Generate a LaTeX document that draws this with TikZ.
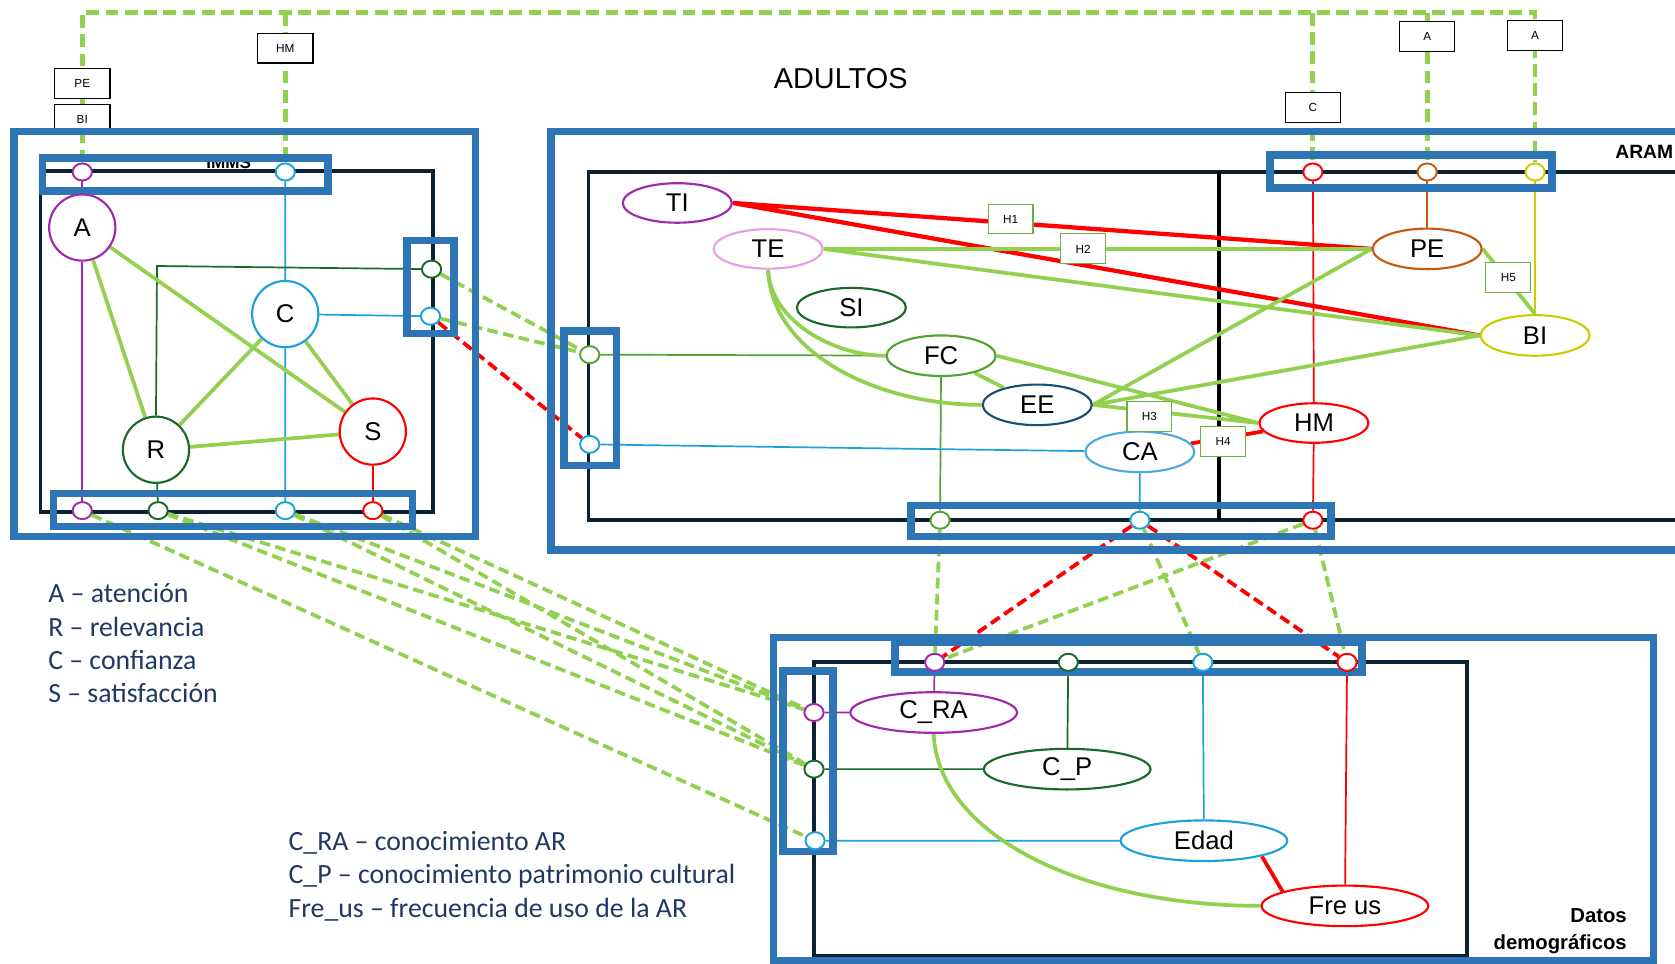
\documentclass[tikz,border=0pt]{standalone}
\usepackage{fontspec}
\setmainfont{Liberation Sans}
\newfontfamily\legfont{Carlito}
\usetikzlibrary{shapes.geometric}
\definecolor{bbox}{RGB}{46,117,182}
\definecolor{dkbox}{RGB}{12,34,50}
\definecolor{lgreen}{RGB}{146,208,80}
\definecolor{cpurple}{RGB}{160,40,170}
\definecolor{ccyan}{RGB}{30,160,220}
\definecolor{cdgreen}{RGB}{25,105,40}
\definecolor{cred}{RGB}{255,0,0}
\definecolor{cfc}{RGB}{80,165,50}
\definecolor{cee}{RGB}{25,80,120}
\definecolor{cca}{RGB}{75,170,225}
\definecolor{cte}{RGB}{230,160,225}
\definecolor{cpe}{RGB}{197,90,17}
\definecolor{cbi}{RGB}{204,204,0}
\definecolor{legtext}{RGB}{32,56,100}
\definecolor{hboxc}{RGB}{112,173,71}
\pgfdeclarelayer{bg}
\pgfdeclarelayer{conn}
\pgfdeclarelayer{blue}
\pgfsetlayers{bg,conn,blue,main}
\tikzset{
  bluebox/.style={draw=bbox, line width=7pt},
  blackbox/.style={draw=dkbox, line width=3.5pt},
  port/.style={ellipse, draw, fill=white, line width=1.8pt, minimum width=18pt, minimum height=16pt, inner sep=0pt},
  circ/.style={circle, draw, fill=white, line width=2pt, minimum size=62pt, inner sep=0pt, font=\fontsize{24}{28}\selectfont},
  ell/.style={ellipse, draw, fill=white, line width=2pt, minimum width=102pt, minimum height=37pt, inner sep=0pt, font=\fontsize{24}{28}\selectfont},
  wel/.style={ell, minimum width=156pt, minimum height=38pt},
  lbox/.style={draw=black, fill=white, line width=1pt, minimum width=52pt, minimum height=28pt, inner sep=0pt, font=\fontsize{11}{13}\selectfont},
  hbox/.style={draw=hboxc, fill=white, line width=1pt, minimum width=42pt, minimum height=28pt, inner sep=0pt, font=\fontsize{11}{13}\selectfont},
  thinln/.style={line width=1.6pt},
  thickln/.style={line width=3.5pt},
  dgreen/.style={draw=lgreen, line width=3.5pt, dash pattern=on 10pt off 5pt},
  dred/.style={draw=cred, line width=3.5pt, dash pattern=on 10pt off 5pt},
  legend/.style={anchor=west, text=legtext, inner sep=0pt, font=\legfont\fontsize{26}{30}\selectfont},
}
\begin{document}
\begin{tikzpicture}[x=1pt,y=-1pt]
\useasboundingbox (0,0) rectangle (1568,902);

% ---------- IMMS nodes ----------
\node[port,draw=cpurple] (iTa) at (77,161) {};
\node[port,draw=ccyan] (iTc) at (267,161) {};
\node[circ,draw=cpurple] (A) at (77,213) {A};
\node[circ,draw=ccyan] (C) at (267,294) {C};
\node[circ,draw=cdgreen] (R) at (146,421) {R};
\node[circ,draw=cred] (S) at (349,404) {S};
\node[port,draw=cdgreen] (iRr) at (404,252) {};
\node[port,draw=ccyan] (iRc) at (403,296) {};
\node[port,draw=cpurple] (iBa) at (77,478) {};
\node[port,draw=cdgreen] (iBr) at (148,478) {};
\node[port,draw=ccyan] (iBc) at (267,478) {};
\node[port,draw=cred] (iBs) at (349,478) {};
\coordinate (rc) at (147,249);

% ---------- ADULTOS nodes ----------
\node[port,draw=cfc] (aLf) at (552,332) {};
\node[port,draw=ccyan] (aLc) at (552,416) {};
\node[port,draw=cred] (aTh) at (1229,161) {};
\node[port,draw=cpe] (aTp) at (1336,161) {};
\node[port,draw=cbi] (aTb) at (1437,161) {};
\node[port,draw=cfc] (aBf) at (880,487) {};
\node[port,draw=ccyan] (aBc) at (1067,487) {};
\node[port,draw=cred] (aBh) at (1229,487) {};
\node[ell,draw=cpurple] (TI) at (634,190) {TI};
\node[ell,draw=cte] (TE) at (719,233) {TE};
\node[ell,draw=cdgreen] (SI) at (797,288) {SI};
\node[ell,draw=cfc,minimum height=38pt] (FC) at (881,333) {FC};
\node[ell,draw=cee,minimum height=38pt] (EE) at (971,379) {EE};
\node[ell,draw=cca,minimum height=38pt] (CA) at (1067,423) {CA};
\node[ell,draw=cpe,minimum height=38pt] (PE) at (1336,233) {PE};
\node[ell,draw=cbi,minimum height=38pt] (BI) at (1437,314) {BI};
\node[ell,draw=cred] (HM) at (1230,396) {HM};
\node[hbox] (H1) at (946,205) {H1};
\node[hbox] (H2) at (1014,233) {H2};
\node[hbox] (H3) at (1076,390) {H3};
\node[hbox] (H4) at (1145,413) {H4};
\node[hbox] (H5) at (1412,260) {H5};

% ---------- Datos nodes ----------
\node[port,draw=cpurple] (dTa) at (875,620) {};
\node[port,draw=cdgreen] (dTp) at (1000,620) {};
\node[port,draw=ccyan] (dTe) at (1126,620) {};
\node[port,draw=cred] (dTf) at (1261,620) {};
\node[port,draw=cpurple] (dLa) at (762,667) {};
\node[port,draw=cdgreen] (dLp) at (762,720) {};
\node[port,draw=ccyan] (dLe) at (763,787) {};
\node[wel,draw=cpurple] (CRA) at (874,667) {C\_RA};
\node[wel,draw=cdgreen] (CP) at (999,720) {C\_P};
\node[wel,draw=ccyan] (Edad) at (1127,787) {Edad};
\node[wel,draw=cred] (Freus) at (1259,848) {Fre us};

% top dashed corners
\coordinate (t1) at (77,12);
\coordinate (t2) at (267,12);
\coordinate (t3) at (1229,12);
\coordinate (t4) at (1336,12);
\coordinate (t5) at (1437,12);

% texts
\node[font=\fontsize{27}{30}\selectfont] (adultos) at (787,74) {ADULTOS};
\node[legend] (l1) at (45,555) {A – atención};
\node[legend] (l2) at (45,587) {R – relevancia};
\node[legend] (l3) at (45,618) {C – confianza};
\node[legend] (l4) at (45,649) {S – satisfacción};
\node[legend] (l5) at (270,789) {C\_RA – conocimiento AR};
\node[legend] (l6) at (270,820) {C\_P – conocimiento patrimonio cultural};
\node[legend] (l7) at (270,852) {Fre\_us – frecuencia de uso de la AR};
\node[font=\bfseries\fontsize{19}{25}\selectfont, align=right, anchor=east, inner sep=0pt] (datos) at (1523,872) {Datos\\demográficos};

% ---------- background: black boxes and labels ----------
\begin{pgfonlayer}{bg}
\fill[white] (0,0) rectangle (1568,902);
\node[font=\bfseries\fontsize{16}{18}\selectfont] (imms) at (214,152) {IMMS};
\node[font=\bfseries\fontsize{18}{20}\selectfont, anchor=west, inner sep=0pt] (aram) at (1512,142) {ARAM};
\draw[blackbox] (38,160) rectangle (405,479);
\draw[blackbox] (551,161) rectangle (1640,487);
\draw[line width=3.5pt, draw=black] (1141,161) -- (1141,487);
\draw[blackbox] (762,620) rectangle (1373,895);
\end{pgfonlayer}

% ---------- connectors ----------
\begin{pgfonlayer}{conn}
% top dashed
\draw[draw=lgreen, line width=4.5pt, dash pattern=on 12pt off 6pt] (iTa) -- (t1) -- (t5) -- (aTb);
\draw[draw=lgreen, line width=4.5pt, dash pattern=on 12pt off 6pt] (t2) -- (iTc);
\draw[draw=lgreen, line width=4.5pt, dash pattern=on 12pt off 6pt] (t3) -- (aTh);
\draw[draw=lgreen, line width=4.5pt, dash pattern=on 12pt off 6pt] (t4) -- (aTp);
% IMMS
\draw[thinln, cpurple] (iTa) -- (A) (A) -- (iBa);
\draw[thinln, ccyan] (iTc) -- (C) (C) -- (iBc) (C) -- (iRc);
\draw[thinln, cdgreen] (R) -- (iBr) (R.north) -- (rc) -- (iRr);
\draw[thinln, cred] (S) -- (iBs);
\draw[thickln, lgreen] (A) -- (R) (A) -- (S) (C) -- (R) (C) -- (S) (R) -- (S);
% ADULTOS
\draw[thinln, cfc] (aLf) -- (FC) (FC) -- (aBf);
\draw[thinln, ccyan] (aLc) -- (CA) (CA) -- (aBc);
\draw[thinln, cred] (aTh) -- (HM) (HM) -- (aBh);
\draw[thinln, cpe] (aTp) -- (PE);
\draw[thinln, cbi] (aTb) -- (BI);
\draw[line width=4pt, cred] (TI.east) -- (PE.west) (TI.east) -- (BI.west);
\draw[thickln, cred] (CA) -- (HM);
\draw[thickln, lgreen] (TE.east) -- (PE.west) (TE.east) -- (BI.west)
  (PE.west) -- (EE.east) (BI.west) -- (EE.east) (EE.east) -- (HM.west)
  (FC.east) -- (HM.west) (FC) -- (EE) (PE.east) -- (BI.north);
\draw[thickln, lgreen] (TE.south) .. controls (721,300) and (780,333) .. (FC.west);
\draw[thickln, lgreen] (TE.south) .. controls (722,330) and (820,379) .. (EE.west);
% Datos
\draw[thinln, cpurple] (dTa) -- (CRA) (dLa) -- (CRA);
\draw[thinln, cdgreen] (dTp) -- (CP) (dLp) -- (CP);
\draw[thinln, ccyan] (dTe) -- (Edad) (dLe) -- (Edad);
\draw[thinln, cred] (dTf) -- (Freus);
\draw[thickln, cred] (Edad.-15) -- (Freus.167);
\draw[thickln, lgreen] (CRA.south) .. controls (878,780) and (1010,848) .. (Freus.west);
% cross dashed
\draw[dgreen] (iRr) -- (aLf);
\draw[dgreen] (iRc) -- (aLf);
\draw[dred] (iRc) -- (aLc);
\draw[dgreen] (iBa) -- (dLe);
\draw[dgreen] (iBr) -- (dLa);
\draw[dgreen] (iBr) -- (dLp);
\draw[dgreen] (iBc) -- (dLa);
\draw[dgreen] (iBc) -- (dLp);
\draw[dgreen] (iBs) -- (dLa);
\draw[dgreen] (iBs) -- (dLp);
\draw[dgreen] (aBf) -- (dTa);
\draw[dred] (aBc) -- (dTa);
\draw[dred] (aBc) -- (dTf);
\draw[dgreen] (aBc) -- (dTe);
\draw[dgreen] (aBh) -- (dTa);
\draw[dgreen] (aBh) -- (dTf);
\end{pgfonlayer}

% ---------- blue boxes and label boxes ----------
\begin{pgfonlayer}{blue}
\node[lbox] (bPE) at (77,78) {PE};
\node[lbox] (bBI) at (77,112) {BI};
\node[lbox] (bHM) at (267,45) {HM};
\node[lbox] (bC) at (1229,101) {C};
\node[lbox] (bA1) at (1336,34) {A};
\node[lbox] (bA2) at (1437,33) {A};
\draw[bluebox] (13,123) rectangle (445,502);
\draw[bluebox] (40,148) rectangle (307,179);
\draw[bluebox] (381,225) rectangle (425,312);
\draw[bluebox] (50,462) rectangle (386,493);
\draw[bluebox] (516,123) rectangle (1640,515);
\draw[bluebox] (528,310) rectangle (577,436);
\draw[bluebox] (1189,145) rectangle (1453,176);
\draw[bluebox] (853,473) rectangle (1246,502);
\draw[bluebox] (724,597) rectangle (1548,899);
\draw[bluebox] (838,601) rectangle (1275,629);
\draw[bluebox] (733,628) rectangle (780,797);
\end{pgfonlayer}
\end{tikzpicture}
\end{document}
